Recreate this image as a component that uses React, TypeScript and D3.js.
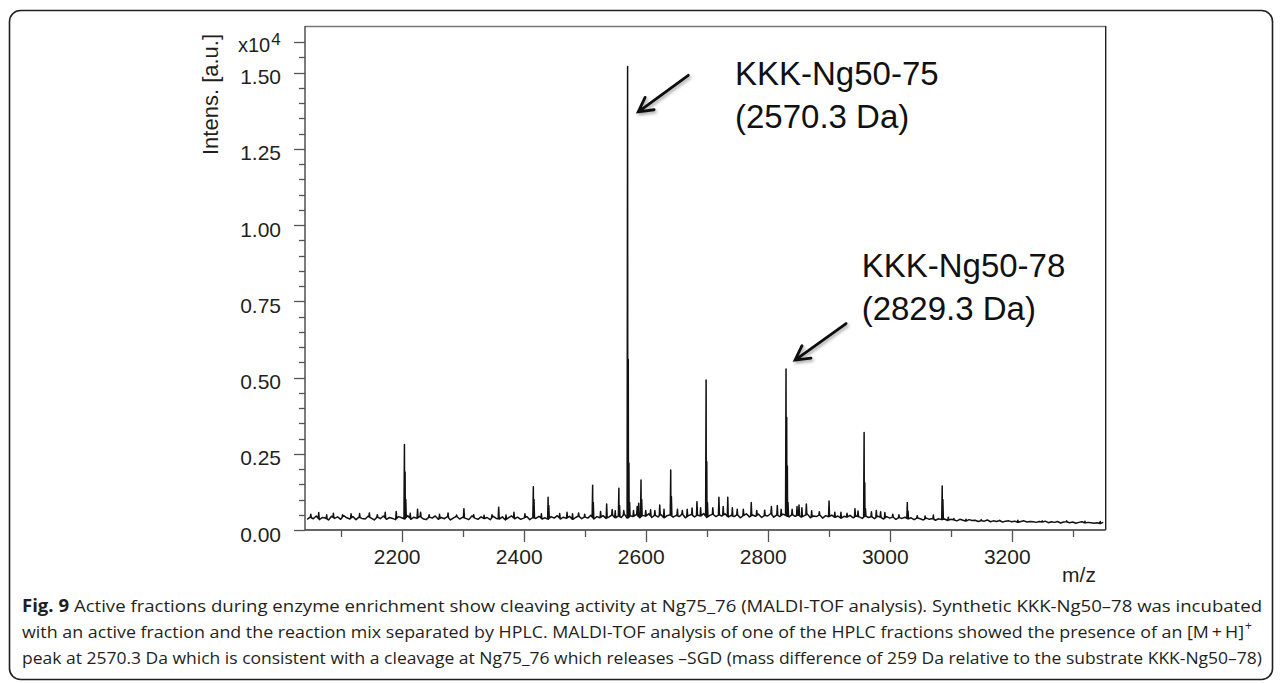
import { useEffect, useRef } from 'react';
import * as d3 from 'd3';

const WIDTH = 1282;
const HEIGHT = 683;

// axis ranges (m/z, intensity in x10^4 a.u.)
const mzDomain = [2041.5, 3354];
const intensDomain = [0, 1.6525];
const xTicks = [2100, 2200, 2300, 2400, 2500, 2600, 2700, 2800, 2900, 3000, 3100, 3200, 3300];
const xLabels = [2200, 2400, 2600, 2800, 3000, 3200];
const yLabels = [0, 0.25, 0.5, 0.75, 1.0, 1.25, 1.5];

// noisy baseline, one value every 5 Da starting at 2040 (units of 0.001 x10^4)
const baselineStart = 2040;
const baselineStep = 5;
const baselineLevels = [
  44, 35, 42, 37, 46, 34, 41, 39, 33, 45, 38, 43, 35, 47, 40, 36, 44, 34, 42, 38,
  36, 45, 39, 33, 43, 37, 46, 35, 41, 38, 34, 44, 40, 36, 47, 35, 42, 38, 45, 37,
  34, 43, 39, 46, 35, 41, 37, 44, 33, 40, 45, 36, 42, 38, 34, 46, 39, 35, 43, 37,
  41, 34, 45, 38, 36, 43, 33, 40, 46, 37, 42, 35, 39, 44, 34, 41, 38, 45, 36, 40,
  35, 44, 39, 47, 36, 42, 38, 45, 34, 41, 46, 37, 43, 39, 48, 36, 44, 40, 47, 38,
  43, 50, 39, 46, 41, 52, 38, 47, 44, 51, 40, 48, 45, 53, 41, 49, 43, 51, 39, 47,
  50, 42, 48, 44, 53, 40, 47, 51, 43, 49, 45, 54, 41, 48, 52, 44, 50, 46, 53, 42,
  48, 44, 51, 40, 47, 53, 43, 49, 45, 52, 41, 48, 46, 54, 42, 50, 44, 52, 47, 43,
  51, 45, 49, 42, 47, 52, 40, 46, 44, 50, 39, 47, 43, 49, 41, 46, 38, 45, 42, 48,
  40, 46, 43, 38, 47, 41, 44, 37, 45, 42, 36, 44, 39, 43, 35, 41, 38, 42, 36, 40,
  34, 40, 37, 33, 39, 35, 38, 32, 37, 34, 36, 31, 35, 33, 30, 35, 32, 29, 34, 31,
  32, 28, 31, 29, 33, 27, 30, 28, 31, 26, 29, 30, 27, 29, 25, 28, 30, 26, 28, 27,
  25, 28, 26, 29, 24, 27, 25, 28, 23, 26, 27, 24, 26, 22, 25, 27, 23, 25, 24, 22,
  24, 21, 25, 23,
];

// peak positions (m/z) and apex heights (x10^4), isotopes listed as separate peaks
const peakMz = [
  2051, 2064, 2077, 2088, 2103, 2117, 2131, 2147, 2160, 2173, 2191,
  2204.5, 2205.6, 2206.7, 2214, 2226, 2231, 2245, 2262, 2276, 2290, 2302,
  2318, 2335, 2348, 2359, 2371, 2384, 2402, 2415.8, 2416.9, 2429, 2440, 2441.1,
  2459, 2471, 2480, 2490, 2500, 2513, 2514.1, 2526, 2536, 2545, 2550, 2556, 2557.1,
  2564, 2570.3, 2571.4, 2572.5, 2573.6, 2580, 2586, 2588.5, 2592.3, 2593.4,
  2600, 2608, 2615, 2623, 2630, 2641, 2642.1, 2652, 2660, 2668, 2676, 2684, 2690,
  2699, 2700.1, 2701.2, 2710, 2720, 2727, 2734.5, 2742, 2750, 2760, 2773, 2782,
  2795, 2806, 2815.7, 2822, 2830, 2831.1, 2832.2, 2833.3, 2840, 2848, 2851.3,
  2856, 2863.3, 2872, 2884.6, 2900.5, 2910, 2920, 2930, 2943, 2948,
  2958, 2959.1, 2960.2, 2970, 2978, 2985, 2992, 3005, 3015, 3028.8, 3030,
  3045, 3058, 3071.5, 3086, 3087.1, 3096, 3105, 3125, 3150, 3180, 3210, 3250,
  3290, 3320, 3345,
];
const peakHeight = [
  0.052, 0.057, 0.05, 0.055, 0.05, 0.053, 0.054, 0.056, 0.05, 0.058, 0.061,
  0.28, 0.19, 0.1, 0.055, 0.068, 0.058, 0.05, 0.052, 0.056, 0.049, 0.07,
  0.05, 0.048, 0.05, 0.075, 0.049, 0.058, 0.053, 0.142, 0.1, 0.053, 0.107, 0.08,
  0.054, 0.058, 0.053, 0.056, 0.052, 0.147, 0.09, 0.061, 0.085, 0.067, 0.063, 0.137, 0.08,
  0.064, 1.52, 0.56, 0.22, 0.09, 0.064, 0.077, 0.088, 0.164, 0.1,
  0.064, 0.066, 0.064, 0.082, 0.068, 0.197, 0.11, 0.068, 0.064, 0.068, 0.072, 0.093, 0.073,
  0.492, 0.224, 0.09, 0.073, 0.107, 0.077, 0.107, 0.073, 0.068, 0.068, 0.09, 0.064,
  0.065, 0.077, 0.08, 0.068, 0.528, 0.37, 0.21, 0.09, 0.068, 0.077, 0.082,
  0.073, 0.085, 0.063, 0.06, 0.095, 0.058, 0.058, 0.055, 0.07, 0.062,
  0.32, 0.155, 0.07, 0.06, 0.064, 0.06, 0.057, 0.052, 0.05, 0.09, 0.062,
  0.047, 0.046, 0.049, 0.144, 0.1, 0.042, 0.038, 0.035, 0.034, 0.032, 0.032, 0.03,
  0.03, 0.029, 0.028,
];

// annotations: label lines, label anchor, arrow tip and tail (data coords)
const annoLines = [
  ['KKK-Ng50-75', '(2570.3 Da)'],
  ['KKK-Ng50-78', '(2829.3 Da)'],
];
const annoLabelAt = [[2746.4, 1.459], [2954, 0.8305]];
const annoTip = [[2587.8, 1.371], [2844.8, 0.557]];
const annoTail = [[2669.8, 1.491], [2928.4, 0.677]];

const captionBold = 'Fig. 9';
const captionLines = [
  ' Active fractions during enzyme enrichment show cleaving activity at Ng75_76 (MALDI-TOF analysis). Synthetic KKK-Ng50–78 was incubated',
  'with an active fraction and the reaction mix separated by HPLC. MALDI-TOF analysis of one of the HPLC fractions showed the presence of an [M\u2009+\u2009H]',
  'peak at 2570.3 Da which is consistent with a cleavage at Ng75_76 which releases –SGD (mass difference of 259 Da relative to the substrate KKK-Ng50–78)',
];

const FONT = "'Liberation Sans', Arial, Helvetica, sans-serif";
const CAPTION_FONT = "'Open Sans', 'Noto Sans', sans-serif";

export default function App() {
  const svgRef = useRef<SVGSVGElement>(null);

  useEffect(() => {
    const svg = d3.select(svgRef.current);
    svg.selectAll('*').remove();

    const left = 305;
    const right = 1105.7;
    const top = 26;
    const bottom = 530;

    const x = d3.scaleLinear().domain(mzDomain).range([left, right]);
    const y = d3.scaleLinear().domain(intensDomain).range([bottom, top]);

    const defs = svg.append('defs');
    const shadow = defs.append('filter').attr('id', 'arrow-shadow').attr('x', '-20%').attr('y', '-20%').attr('width', '150%').attr('height', '150%');
    shadow
      .append('feDropShadow')
      .attr('dx', 1.5)
      .attr('dy', 2)
      .attr('stdDeviation', 1.6)
      .attr('flood-color', '#000')
      .attr('flood-opacity', 0.35);

    // outer figure box
    svg
      .append('rect')
      .attr('x', 9.5)
      .attr('y', 10.5)
      .attr('width', 1263)
      .attr('height', 669)
      .attr('rx', 11)
      .attr('fill', 'none')
      .attr('stroke', '#231f20')
      .attr('stroke-width', 1.6);

    // plot frame
    const frame = svg.append('g');
    frame.append('line').attr('x1', left).attr('x2', right).attr('y1', top + 0.5).attr('y2', top + 0.5).attr('stroke', '#777').attr('stroke-width', 1.4);
    frame.append('line').attr('x1', right).attr('x2', right).attr('y1', top).attr('y2', bottom).attr('stroke', '#222').attr('stroke-width', 1.4);
    frame.append('line').attr('x1', left).attr('x2', left).attr('y1', top).attr('y2', bottom).attr('stroke', '#444').attr('stroke-width', 1.4);
    frame.append('line').attr('x1', left).attr('x2', right).attr('y1', bottom).attr('y2', bottom).attr('stroke', '#333').attr('stroke-width', 1.4);

    // y ticks: minor every 0.05, long every 0.25 and at the exponent mark
    const yTicks = d3.range(0, 33).map((i) => i * 0.05);
    svg
      .append('g')
      .selectAll('line')
      .data(yTicks)
      .join('line')
      .attr('x1', (d, i) => (i % 5 === 0 || i === 32 ? left - 11 : left - 6))
      .attr('x2', left)
      .attr('y1', (d) => Math.round(y(d)) + 0.5)
      .attr('y2', (d) => Math.round(y(d)) + 0.5)
      .attr('stroke', '#555')
      .attr('stroke-width', 1.3);

    svg
      .append('g')
      .selectAll('text')
      .data(yLabels)
      .join('text')
      .attr('x', 281)
      .attr('y', (d) => y(d) + 11.5)
      .attr('text-anchor', 'end')
      .attr('font-family', FONT)
      .attr('font-size', 21)
      .attr('fill', '#231f20')
      .text((d) => d3.format('.2f')(d));

    const expLabel = svg
      .append('text')
      .attr('x', 238)
      .attr('y', y(1.6) + 10)
      .attr('font-family', FONT)
      .attr('font-size', 20)
      .attr('fill', '#231f20');
    expLabel.append('tspan').text('x10');
    expLabel.append('tspan').attr('dy', -7).attr('dx', 1).attr('font-size', 17).text('4');

    svg
      .append('text')
      .attr('transform', `translate(218,155) rotate(-90)`)
      .attr('font-family', FONT)
      .attr('font-size', 22)
      .attr('fill', '#231f20')
      .text('Intens. [a.u.]');

    // x ticks
    svg
      .append('g')
      .selectAll('line')
      .data(xTicks)
      .join('line')
      .attr('x1', (d) => Math.round(x(d)) + 0.5)
      .attr('x2', (d) => Math.round(x(d)) + 0.5)
      .attr('y1', bottom)
      .attr('y2', (d) => (xLabels.includes(d) ? bottom + 12 : bottom + 7))
      .attr('stroke', '#555')
      .attr('stroke-width', 1.3);

    svg
      .append('g')
      .selectAll('text')
      .data(xLabels)
      .join('text')
      .attr('x', (d) => x(d) - 4.5)
      .attr('y', 564)
      .attr('text-anchor', 'middle')
      .attr('font-family', FONT)
      .attr('font-size', 21)
      .attr('fill', '#231f20')
      .text((d) => d);

    svg
      .append('text')
      .attr('x', 1079)
      .attr('y', 582)
      .attr('text-anchor', 'middle')
      .attr('font-family', FONT)
      .attr('font-size', 21)
      .attr('fill', '#231f20')
      .text('m/z');

    // spectrum: baseline points plus triangular spikes for every peak
    const baseMz = baselineLevels.map((_, i) => baselineStart + i * baselineStep);
    const baseVal = baselineLevels.map((v) => v / 1000);
    const baseAt = d3.scaleLinear().domain(baseMz).range(baseVal).clamp(true);
    const hw = 0.8;

    const pts: [number, number][] = [];
    baseMz.forEach((m, i) => {
      if (m < mzDomain[0] || m > mzDomain[1]) return;
      const inside = peakMz.some((p) => Math.abs(p - m) < hw);
      if (!inside) pts.push([m, baseVal[i]]);
    });
    peakMz.forEach((p, i) => {
      pts.push([p - hw, baseAt(p - hw)]);
      pts.push([p, Math.max(peakHeight[i], baseAt(p))]);
      pts.push([p + hw, baseAt(p + hw)]);
    });
    pts.sort((a, b) => a[0] - b[0]);

    const line = d3
      .line<[number, number]>()
      .x((d) => x(d[0]))
      .y((d) => y(d[1]));

    svg
      .append('path')
      .attr('d', line(pts.filter((d) => d[0] >= mzDomain[0] && d[0] <= mzDomain[1])))
      .attr('fill', 'none')
      .attr('stroke', '#111')
      .attr('stroke-width', 1.5)
      .attr('stroke-linejoin', 'round');

    // annotations
    annoLines.forEach((lines, i) => {
      const t = svg
        .append('text')
        .attr('font-family', FONT)
        .attr('font-size', 33)
        .attr('fill', '#111');
      lines.forEach((s, j) => {
        t.append('tspan')
          .attr('x', x(annoLabelAt[i][0]))
          .attr('y', y(annoLabelAt[i][1]) + j * 43)
          .text(s);
      });

      const tx = x(annoTip[i][0]);
      const ty = y(annoTip[i][1]);
      const sx = x(annoTail[i][0]);
      const sy = y(annoTail[i][1]);
      const ang = Math.atan2(sy - ty, sx - tx);
      const armLen = 16;
      const spread = 0.5;
      const a1x = tx + armLen * Math.cos(ang - spread);
      const a1y = ty + armLen * Math.sin(ang - spread);
      const a2x = tx + armLen * Math.cos(ang + spread);
      const a2y = ty + armLen * Math.sin(ang + spread);
      svg
        .append('path')
        .attr('d', `M${sx},${sy}L${tx},${ty}M${a1x},${a1y}L${tx},${ty}L${a2x},${a2y}`)
        .attr('fill', 'none')
        .attr('stroke', '#111')
        .attr('stroke-width', 2.8)
        .attr('stroke-linecap', 'round')
        .attr('stroke-linejoin', 'miter')
        .attr('filter', 'url(#arrow-shadow)');
    });

    // caption
    const capY = [612, 638, 664];
    const capWidth = [1240, 1222, 1240];
    captionLines.forEach((s, i) => {
      const t = svg
        .append('text')
        .attr('x', 22)
        .attr('y', capY[i])
        .attr('font-family', CAPTION_FONT)
        .attr('font-size', 17)
        .attr('fill', '#231f20')
        .attr('textLength', capWidth[i])
        .attr('lengthAdjust', 'spacingAndGlyphs');
      if (i === 0) t.append('tspan').attr('font-weight', 'bold').text(captionBold);
      t.append('tspan').text(s);
    });
    svg
      .append('text')
      .attr('x', 1245)
      .attr('y', capY[1] - 8)
      .attr('font-family', CAPTION_FONT)
      .attr('font-size', 12)
      .attr('fill', '#231f20')
      .text('+');
  }, []);

  return (
    <svg
      ref={svgRef}
      width={WIDTH}
      height={HEIGHT}
      style={{ position: 'absolute', left: 0, top: 0, background: '#fff' }}
    />
  );
}
